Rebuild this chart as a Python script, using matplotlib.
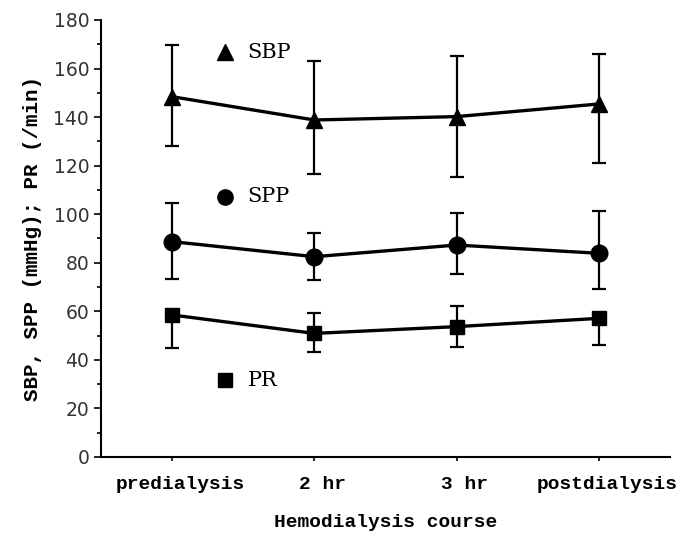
import matplotlib
matplotlib.use("Agg")
import matplotlib.pyplot as plt
import matplotlib.transforms as mtransforms
import numpy as np

categories = ["predialysis", "2 hr", "3 hr", "postdialysis"]
sbp = [148.4, 138.8, 140.2, 145.4]
sbp_hi = [169.7, 163.1, 165.3, 166.0]
sbp_lo = [128.1, 116.6, 115.4, 121.2]
spp = [88.7, 82.5, 87.3, 83.9]
spp_hi = [104.5, 92.4, 100.4, 101.4]
spp_lo = [73.4, 72.9, 75.2, 69.1]
pr = [58.5, 50.9, 53.7, 57.1]
pr_hi = [60.3, 59.5, 62.3, 58.3]
pr_lo = [45.0, 43.4, 45.2, 46.1]
yticks = [0, 20, 40, 60, 80, 100, 120, 140, 160, 180]

fig = plt.figure(figsize=(6.88, 5.34), dpi=100)
ax = fig.add_axes([0.1468, 0.1442, 0.827, 0.8184])
x = np.arange(len(categories))

def draw(vals, hi, lo, marker, ms):
    vals = np.array(vals); hi = np.array(hi); lo = np.array(lo)
    ax.errorbar(x, vals, yerr=[vals - lo, hi - vals], color="black", lw=2.4,
                elinewidth=1.6, capsize=5, capthick=1.6, marker=marker,
                markersize=ms, markerfacecolor="black", markeredgecolor="black")

draw(sbp, sbp_hi, sbp_lo, "^", 11)
draw(spp, spp_hi, spp_lo, "o", 12)
draw(pr, pr_hi, pr_lo, "s", 10.5)

serif = ["DejaVu Serif"]
for yv, m, lab in [(166.8, "^", "SBP"), (107.1, "o", "SPP"), (31.7, "s", "PR")]:
    ax.plot([0.37], [yv], marker=m, color="black",
            markersize=11 if m != "s" else 9.5, ls="none")
    ax.text(0.53, yv, lab, fontsize=15, family=serif, va="center", ha="left")

ax.set_xlim(-0.5, 3.5)
ax.set_ylim(0, 180)
ax.set_yticks(yticks)
ax.set_yticks(np.arange(10, 180, 20), minor=True)
ax.set_xticks(x)
ax.set_xticklabels([])
offset = mtransforms.ScaledTranslation(8 / 100, -19 / 100, fig.dpi_scale_trans)
trans = ax.get_xaxis_transform() + offset
for xi, cat in zip(x, categories):
    ax.text(xi, 0, cat, transform=trans, ha="center", va="top",
            family=["Liberation Mono"], fontweight="bold", fontsize=14, clip_on=False)
ax.tick_params(axis="y", labelsize=13.5, length=5, width=1.2, direction="out")
ax.tick_params(axis="y", which="minor", length=3, width=1.2)
ax.tick_params(axis="x", length=3, width=1.2, pad=11)
for lbl in ax.get_yticklabels():
    lbl.set_color("#333333")
ax.spines["top"].set_visible(False)
ax.spines["right"].set_visible(False)
ax.spines["left"].set_linewidth(1.5)
ax.spines["bottom"].set_linewidth(1.5)
ax.set_xlabel("Hemodialysis course", family=["Liberation Mono"], fontweight="bold", fontsize=14)
ax.xaxis.set_label_coords(0.5, -0.13)
ax.xaxis.label.set_va("top")
ax.set_ylabel("SBP, SPP (mmHg); PR (/min)", family=["Liberation Mono"], fontweight="bold", fontsize=15, labelpad=8)

fig.savefig("out.png", dpi=100)
